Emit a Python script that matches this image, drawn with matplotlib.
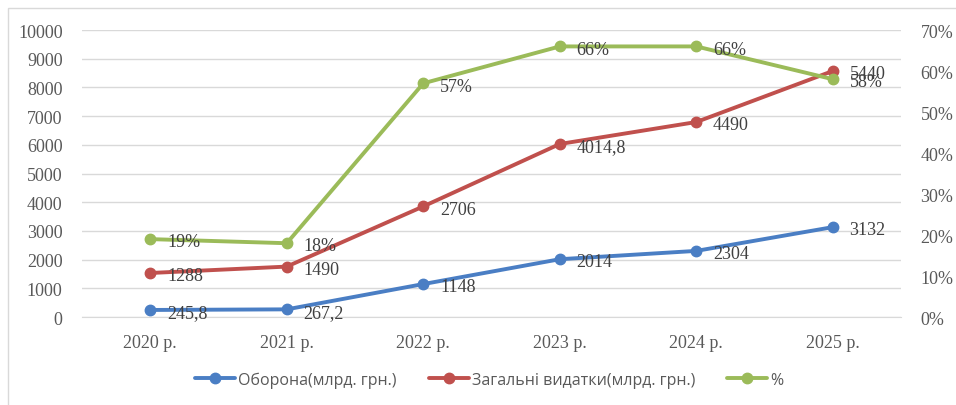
import numpy as np
import matplotlib.pyplot as plt
from matplotlib.patches import Rectangle

# data
years = ["2020 р.", "2021 р.", "2022 р.", "2023 р.", "2024 р.", "2025 р."]
defence = [245.8, 267.2, 1148, 2014, 2304, 3132]
total = [1288, 1490, 2706, 4014.8, 4490, 5440]
share = [0.19, 0.18, 0.57, 0.66, 0.66, 0.58]

defence_lbl = ["245,8", "267,2", "1148", "2014", "2304", "3132"]
total_lbl = ["1288", "1490", "2706", "4014,8", "4490", "5440"]
share_lbl = ["19%", "18%", "57%", "66%", "66%", "58%"]

blue = "#4A7EC4"
red = "#C0504D"
green = "#9BBB59"
gray = "#595959"
serif = "Liberation Serif"

x = np.arange(len(years))
# Excel stacked line: second series sits on top of the first
total_stacked = np.array(defence) + np.array(total)

fig = plt.figure(figsize=(9.56, 4.06), dpi=100)
ax = fig.add_axes([0.0858, 0.2167, 0.8567, 0.7069])
ax2 = ax.twinx()

# chart border
fig.patches.append(Rectangle((8 / 956, -0.1), 1.0, 1 - 9 / 406 + 0.1, transform=fig.transFigure,
                             fill=False, edgecolor="#D9D9D9", linewidth=1.0))

line_kw = dict(linewidth=2.8, marker="o", markersize=7.5, solid_capstyle="round")
l1, = ax.plot(x, defence, color=blue, label="Оборона(млрд. грн.)", zorder=3, **line_kw)
l2, = ax.plot(x, total_stacked, color=red, label="Загальні видатки(млрд. грн.)", zorder=3, **line_kw)
l3, = ax2.plot(x, share, color=green, label="%", zorder=3, **line_kw)

lbl_kw = dict(textcoords="offset points", xytext=(12, -2), va="center", ha="left",
              fontsize=13, family=serif, color="#404040")
for xi, yi, t in zip(x, defence, defence_lbl):
    ax.annotate(t, (xi, yi), **lbl_kw)
for xi, yi, t in zip(x, total_stacked, total_lbl):
    ax.annotate(t, (xi, yi), **lbl_kw)
for xi, yi, t in zip(x, share, share_lbl):
    ax2.annotate(t, (xi, yi), **lbl_kw)

ax.set_xlim(-0.5, 5.5)
ax.set_ylim(0, 10000)
ax.set_yticks(np.arange(0, 10001, 1000))
ax2.set_ylim(0, 0.7)
ax2.set_yticks(np.arange(0, 0.71, 0.1))
ax2.set_yticklabels([f"{int(round(v * 100))}%" for v in np.arange(0, 0.71, 0.1)])

ax.set_xticks(x)
ax.set_xticklabels(years)
ax.grid(axis="y", color="#D9D9D9", linewidth=1.0)
ax.set_axisbelow(True)

for a in (ax, ax2):
    for s in a.spines.values():
        s.set_visible(False)
    a.tick_params(length=0, labelsize=13, labelcolor=gray)
    for t in a.get_xticklabels() + a.get_yticklabels():
        t.set_family(serif)
ax.spines["bottom"].set_visible(True)
ax.spines["bottom"].set_color("#D9D9D9")
ax.tick_params(axis="x", pad=12)
ax.tick_params(axis="y", pad=14)
ax2.tick_params(axis="y", pad=14)

fig.legend(handles=[l1, l2, l3], loc="center", bbox_to_anchor=(0.512, 0.062), ncol=3,
           frameon=False, handlelength=2.5, handletextpad=0.2,
           columnspacing=2.0, labelcolor=gray, prop={"family": "Open Sans", "size": 11.5})

fig.savefig("out.png", dpi=100)
